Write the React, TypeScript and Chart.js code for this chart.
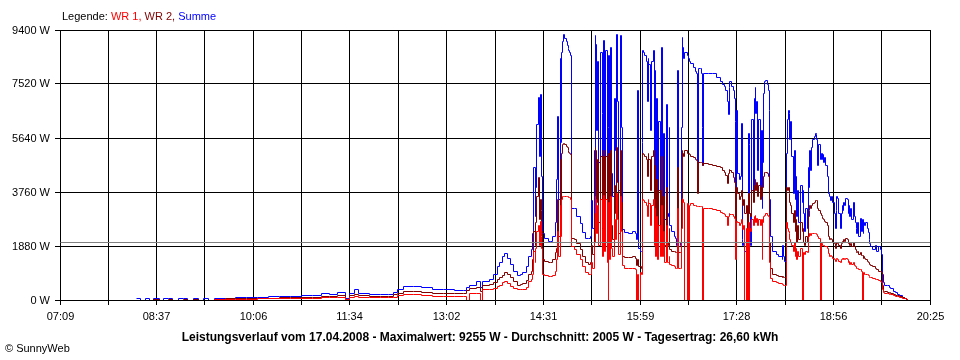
import React, { useEffect, useRef } from 'react';
import { Chart, registerables } from 'chart.js';

Chart.register(...registerables);

const FONT = "'Liberation Sans', Arial, sans-serif";

const xTickLabels = ['07:09', '08:37', '10:06', '11:34', '13:02', '14:31', '15:59', '17:28', '18:56', '20:25'];
const xMin = 429;
const xMax = 1225;
const yMax = 9400;
const yStep = 1880;
const average = 2005;
const seriesNames = ['WR 1', 'WR 2', 'Summe'];
const titleText = 'Leistungsverlauf vom 17.04.2008 - Maximalwert: 9255 W - Durchschnitt: 2005 W - Tagesertrag: 26,60 kWh';

// time of day in minutes since midnight
const times = [
  499, 503, 507, 511, 515, 520, 524, 528, 532, 537,
  542, 546, 551, 556, 560, 565, 570, 580, 590, 600,
  610, 620, 630, 640, 650, 660, 668, 676, 683, 690,
  694, 698, 702, 712, 722, 730, 734, 738, 743, 752,
  760, 770, 780, 790, 798, 801, 804, 810, 814, 816,
  822, 826, 829, 831, 834, 836, 838, 841, 844, 848,
  849.9, 852.6, 855.4, 858.1, 860.0, 860.9, 861.8, 863.6, 864.5, 865.4,
  866.4, 867.3, 868.2, 869.1, 870.0, 870.9, 872.7, 875.5, 878.2, 880.0,
  881.9, 883.7, 884.6, 885.5, 886.5, 887.4, 888.3, 889.2, 890.1, 891.0,
  892.0, 892.9, 893.8, 894.7, 895.6, 896.5, 897.4, 899.3, 902.0, 904.8,
  907.5, 910.2, 913.0, 914.8, 915.7, 916.6, 917.6, 918.5, 919.4, 920.3,
  921.2, 922.1, 923.1, 924.9, 925.8, 926.7, 927.6, 928.5, 929.5, 930.4,
  931.3, 932.2, 933.1, 934.0, 934.9, 935.9, 936.8, 938.6, 939.5, 940.4,
  941.4, 942.3, 943.2, 945.9, 949.6, 953.2, 956.0, 956.9, 957.8, 958.7,
  959.7, 960.6, 961.5, 962.4, 963.3, 964.2, 965.2, 966.1, 967.0, 967.9,
  969.7, 970.6, 971.6, 972.5, 973.4, 974.3, 975.2, 976.1, 977.0, 978.0,
  978.9, 979.8, 981.6, 982.5, 983.5, 984.4, 985.3, 986.2, 987.1, 988.9,
  990.8, 992.6, 993.5, 994.4, 995.3, 996.3, 997.2, 998.1, 999.0, 999.9,
  1000.8, 1002.7, 1003.6, 1004.5, 1006.3, 1008.2, 1010.9, 1011.8, 1012.7, 1013.6,
  1014.6, 1015.5, 1016.4, 1017.3, 1018.2, 1021.9, 1026.4, 1030.1, 1032.9, 1035.6,
  1037.4, 1038.3, 1039.3, 1040.2, 1041.1, 1042.0, 1043.8, 1044.8, 1045.7, 1046.6,
  1047.5, 1048.4, 1049.3, 1050.3, 1051.2, 1052.1, 1053.0, 1053.9, 1054.8, 1055.7,
  1056.7, 1057.6, 1058.5, 1059.4, 1060.3, 1061.2, 1062.1, 1063.1, 1064.0, 1064.9,
  1065.8, 1066.7, 1067.6, 1068.5, 1069.5, 1070.4, 1071.3, 1072.2, 1073.1, 1074.0,
  1074.9, 1075.9, 1076.8, 1077.7, 1078.6, 1079.5, 1081.3, 1084.1, 1086.8, 1089.7,
  1090.5, 1091.4, 1092.3, 1093.3, 1094.2, 1095.1, 1096.0, 1096.9, 1097.8, 1098.7,
  1099.7, 1100.6, 1101.5, 1102.4, 1103.3, 1104.2, 1105.1, 1106.1, 1107.9, 1108.8,
  1109.7, 1110.6, 1111.5, 1112.5, 1113.4, 1114.3, 1115.2, 1116.1, 1117.0, 1117.9,
  1118.9, 1119.8, 1120.7, 1121.6, 1122.5, 1123.4, 1124.4, 1125.3, 1126.2, 1127.1,
  1128.0, 1128.9, 1129.8, 1130.8, 1131.7, 1133.5, 1134.4, 1135.3, 1136.2, 1137.2,
  1138.1, 1139.0, 1139.9, 1140.8, 1141.7, 1142.7, 1143.6, 1144.5, 1145.4, 1146.3,
  1147.2, 1148.1, 1149.1, 1150.0, 1150.9, 1151.8, 1152.7, 1153.6, 1154.6, 1155.5,
  1156.4, 1157.3, 1158.2, 1159.1, 1160.0, 1161.0, 1161.9, 1162.8, 1163.7, 1164.6,
  1165.5, 1166.4, 1167.4, 1168.3, 1169.2, 1170.1, 1171.0, 1172.8, 1174.7, 1176.5,
  1178.3, 1179.3, 1180.2, 1181.1, 1182.0, 1183.8, 1185.7, 1187.5, 1189.3, 1191.2,
  1193.0, 1194.9, 1196.7, 1199.5, 1201.3, 1203.2, 1204.1,
];

const summe = [
  35, 0, 35, 0, 35, 0, 35, 35, 0, 35,
  35, 0, 35, 0, 35, 0, 50, 60, 70, 90,
  100, 110, 120, 130, 140, 150, 240, 200, 270, 40,
  240, 380, 220, 200, 190, 200, 260, 380, 470, 460,
  420, 380, 350, 330, 340, 420, 500, 650, 420, 640,
  700, 900, 1150, 1300, 1500, 1630, 1450, 1250, 1000, 870,
  880, 950, 1150, 1500, 1750, 2300, 4600, 2900, 3900, 6100,
  7050, 5000, 7150, 5600, 4300, 2300, 2150, 2050, 2050, 2200,
  2700, 4200, 6400, 3500, 8400, 5500, 8600, 9000, 9255, 9100,
  9000, 8850, 8750, 8700, 8600, 8500, 3200, 3200, 2900, 2650,
  2350, 2150, 2130, 2200, 3450, 2500, 5200, 9200, 8900, 5900,
  8300, 4800, 8600, 6500, 3500, 9050, 4200, 8700, 2900, 6000,
  8500, 3300, 8800, 4400, 3600, 7000, 5200, 9250, 6900, 3800,
  9200, 6000, 2450, 2350, 2300, 2400, 2300, 2100, 7300, 1800,
  1700, 1700, 5500, 8700, 8600, 8500, 8300, 6900, 8400, 8200,
  5900, 8300, 8700, 4500, 8000, 3200, 7000, 2800, 6200, 3000,
  8800, 3500, 5800, 2800, 6800, 3000, 2900, 6000, 2600, 2400,
  2200, 2150, 1900, 8000, 2000, 1900, 6000, 9150, 8800, 8400,
  8600, 8500, 8400, 8300, 8250, 8100, 7950, 7900, 3800, 8050,
  8050, 7900, 6000, 4700, 7900, 7900, 7880, 7750, 7600, 7500,
  7450, 7300, 6900, 6450, 7400, 7600, 7450, 7300, 7000, 6200,
  1500, 6600, 4400, 4200, 4300, 6150, 2100, 1900, 2000, 1700,
  2100, 1600, 5800, 5400, 3000, 1900, 6300, 3500, 7000, 7400,
  6500, 6900, 4500, 6300, 3800, 5900, 3200, 4800, 7200, 7600,
  7650, 7500, 7300, 6600, 3500, 2200, 1700, 1600, 1500, 1400,
  1900, 1500, 1350, 5100, 6300, 6600, 6500, 5600, 6200, 5000,
  3700, 5200, 3500, 4300, 2900, 3800, 2700, 4000, 3400, 3800,
  3000, 2400, 3200, 2500, 4600, 3900, 5200, 4500, 5300, 5600,
  5700, 5800, 5750, 5600, 4700, 5400, 4900, 5100, 4900, 5050,
  4800, 4950, 4700, 4300, 3700, 3600, 3450, 3600, 3400, 3000,
  2500, 3100, 3600, 3550, 3000, 2500, 3000, 3300, 3100, 3400,
  3300, 3550, 3500, 3000, 3300, 2900, 3200, 2800, 3400, 2900,
  2700, 2500, 2300, 2700, 2200, 2850, 2400, 2800, 2300, 2700,
  2600, 2700, 2500, 2350, 2100, 1950, 1850, 1750, 1900, 1700,
  1850, 1750, 1600, 900, 600, 520, 500, 450, 400, 300,
  250, 200, 150, 100, 60, 20, 0,
];

const wr2 = [
  0, 0, 0, 0, 20, 0, 0, 20, 0, 0,
  20, 0, 20, 0, 0, 0, 20, 35, 40, 50,
  60, 65, 70, 75, 80, 85, 130, 120, 150, 20,
  140, 180, 140, 130, 120, 130, 180, 230, 290, 290,
  250, 230, 220, 220, 230, 330, 400, 420, 300, 520,
  540, 600, 730, 770, 870, 970, 900, 800, 640, 520,
  540, 580, 680, 900, 1000, 1400, 2400, 1900, 2700, 3600,
  4250, 2800, 3500, 3100, 2400, 1400, 1330, 1290, 1300, 1400,
  1650, 1800, 3500, 2200, 4900, 3000, 5100, 5400, 5460, 5400,
  5350, 5300, 5200, 5150, 5100, 5050, 2150, 2100, 1950, 1750,
  1500, 1300, 1250, 1300, 1900, 1600, 3000, 5300, 5200, 3400,
  4900, 2700, 5000, 3600, 2100, 5200, 2300, 5000, 1800, 3300,
  5100, 2000, 5200, 2600, 2100, 4000, 3000, 5300, 4100, 2300,
  5200, 3400, 1500, 1480, 1470, 1500, 1450, 1200, 1400, 1150,
  1150, 1100, 3000, 5100, 5050, 5000, 4900, 4300, 5100, 4900,
  3800, 5000, 5200, 2700, 4700, 2100, 4200, 2000, 3800, 2100,
  5000, 2200, 3600, 1900, 3900, 2000, 1900, 2500, 1750, 1700,
  1700, 1650, 1650, 4600, 1650, 1650, 3500, 5200, 5100, 5000,
  5200, 5100, 5100, 5050, 5000, 4950, 4900, 4850, 3700, 4800,
  4780, 4770, 4770, 4700, 4750, 4720, 4700, 4650, 4600, 4500,
  4450, 4350, 4060, 4400, 4550, 4500, 4450, 4250, 4100, 4000,
  1500, 3900, 3700, 3500, 3600, 3800, 3400, 3300, 3500, 3000,
  3300, 2000, 3700, 3300, 3000, 2900, 3800, 3400, 4000, 4200,
  3800, 4100, 3600, 4000, 3500, 3900, 3600, 3900, 4300, 4450,
  4450, 4400, 4300, 4100, 2000, 1100, 900, 850, 820, 800,
  820, 800, 790, 3900, 3800, 3900, 3700, 3400, 3300, 3000,
  2700, 3100, 2400, 2800, 2000, 2600, 2100, 2700, 2400, 2500,
  2000, 1900, 2200, 2000, 2900, 3100, 3300, 3200, 3300, 3350,
  3400, 3450, 3480, 3450, 3200, 3100, 3000, 2950, 2900, 2850,
  2800, 2750, 2700, 2600, 2200, 2100, 2150, 2100, 2000, 1950,
  1800, 1900, 2000, 1950, 1900, 1800, 1950, 2050, 2000, 2100,
  2050, 2150, 2100, 1950, 2000, 1900, 1950, 1850, 2000, 1850,
  1750, 1700, 1650, 1700, 1600, 1650, 1550, 1550, 1450, 1500,
  1450, 1400, 1350, 1300, 1250, 1250, 1200, 1150, 1100, 1050,
  1000, 980, 950, 500, 300, 280, 260, 250, 230, 200,
  170, 140, 110, 80, 50, 20, 0,
];

const wr1 = [
  0, 0, 0, 0, 0, 0, 0, 0, 0, 0,
  0, 0, 0, 0, 0, 0, 10, 15, 20, 30,
  35, 40, 45, 50, 55, 60, 80, 70, 100, 10,
  90, 110, 80, 70, 70, 75, 100, 140, 175, 175,
  140, 120, 110, 110, 115, 0, 240, 240, 0, 350,
  360, 400, 460, 520, 600, 640, 590, 480, 400, 350,
  360, 380, 450, 650, 720, 900, 1700, 1300, 1800, 2400,
  2600, 1900, 2750, 2200, 1800, 900, 850, 820, 820, 850,
  1000, 1400, 2400, 1500, 3300, 2200, 3500, 3600, 3620, 3600,
  3600, 3590, 3590, 3580, 3560, 3500, 1850, 1750, 1600, 1400,
  1150, 950, 880, 900, 1300, 1100, 2000, 3600, 3500, 2300,
  3300, 1900, 3500, 2500, 1500, 3650, 1700, 3500, 1300, 0,
  3400, 1400, 3600, 1800, 1500, 2800, 2100, 3700, 2800, 1600,
  3600, 2400, 1200, 1100, 1080, 1100, 1050, 0, 900, 0,
  950, 900, 1900, 3500, 3450, 3400, 3300, 2900, 3500, 3350,
  2600, 3300, 3500, 1900, 3200, 1500, 2900, 1400, 2600, 1500,
  3300, 1500, 2400, 1300, 2600, 1300, 1300, 1500, 1250, 1200,
  1150, 1100, 1100, 3200, 1100, 1100, 2500, 3550, 3500, 3400,
  0, 3350, 0, 3300, 3350, 3300, 3280, 3250, 3250, 3250,
  3250, 3250, 0, 0, 3200, 3180, 3150, 3120, 3050, 3000,
  2960, 2900, 2610, 2900, 3000, 2980, 2960, 2900, 2850, 2700,
  1400, 2750, 2700, 2600, 2650, 2800, 2500, 2450, 2600, 0,
  2500, 0, 2700, 0, 2500, 2400, 2800, 2600, 2900, 2950,
  2700, 2850, 2600, 2800, 2600, 2800, 1400, 2700, 2900, 2950,
  3000, 2950, 2900, 2800, 1300, 750, 650, 600, 560, 540,
  540, 520, 510, 2700, 2500, 2400, 2300, 2100, 2000, 1900,
  1700, 2000, 1500, 1800, 1400, 1700, 1500, 1800, 0, 0,
  1650, 1600, 1700, 1650, 2200, 2300, 2300, 2250, 2300, 2300,
  2320, 2330, 2300, 2280, 2200, 2150, 0, 2000, 1950, 1900,
  1900, 1850, 1850, 1800, 1620, 1500, 1550, 1500, 1450, 1400,
  1350, 1400, 1450, 1400, 1350, 1300, 1400, 1450, 1400, 1450,
  1400, 1450, 1400, 1300, 1350, 1250, 1300, 1250, 1300, 1200,
  1150, 1150, 1100, 1100, 1050, 1050, 1000, 0, 950, 950,
  900, 900, 880, 850, 820, 800, 780, 750, 720, 700,
  680, 650, 620, 350, 250, 220, 210, 200, 180, 150,
  130, 110, 80, 60, 40, 15, 0,
];

const COLORS = { wr1: '#ff0000', wr2: '#800000', summe: '#0000ff', avg: '#808080', axis: '#000000' };

// Snap the scales' pixel output to the pixel grid so 1px step lines render crisp
const crispPlugin = {
  id: 'crispPixels',
  afterLayout(chart: any) {
    ['x', 'y'].forEach((id) => {
      const s = chart.scales[id];
      if (!s || s.__crisp) return;
      const orig = s.getPixelForValue.bind(s);
      s.getPixelForValue = (v: any, idx?: any) => {
        const p = orig(v, idx);
        return Number.isFinite(p) ? Math.floor(p) + 0.5 : p;
      };
      s.__crisp = true;
    });
  },
};

export default function App() {
  const ref = useRef<HTMLCanvasElement | null>(null);

  useEffect(() => {
    document.body.style.margin = '0';
    const canvas = ref.current;
    if (!canvas) return;
    const toPts = (vals: number[]) => times.map((t, i) => ({ x: t, y: vals[i] }));
    const lineBase = { borderWidth: 1, pointRadius: 0, fill: false, tension: 0, stepped: true as const };
    const chart = new Chart(canvas, {
      type: 'line',
      data: {
        datasets: [
          {
            label: 'Durchschnitt',
            data: [{ x: xMin, y: average }, { x: xMax, y: average }],
            borderColor: COLORS.avg,
            borderWidth: 1,
            pointRadius: 0,
          },
          { ...lineBase, label: seriesNames[0], data: toPts(wr1), borderColor: COLORS.wr1 },
          { ...lineBase, label: seriesNames[1], data: toPts(wr2), borderColor: COLORS.wr2 },
          { ...lineBase, label: seriesNames[2], data: toPts(summe), borderColor: COLORS.summe },
        ],
      },
      options: {
        animation: false,
        responsive: false,
        devicePixelRatio: 1,
        events: [],
        layout: { padding: { top: 30, right: 30, left: 0, bottom: 0 } },
        plugins: {
          legend: { display: false },
          tooltip: { enabled: false },
          title: { display: false },
        },
        scales: {
          x: {
            type: 'linear',
            min: xMin,
            max: xMax,
            afterBuildTicks: (s: any) => {
              s.ticks = Array.from({ length: 19 }, (_, i) => ({ value: xMin + (i * (xMax - xMin)) / 18 }));
            },
            afterFit: (s: any) => {
              s.height = 60;
            },
            ticks: {
              autoSkip: false,
              maxRotation: 0,
              padding: 5,
              color: COLORS.axis,
              font: { family: FONT, size: 11 },
              callback: (_v: any, i: number) => (i % 2 === 0 ? xTickLabels[i / 2] : ''),
            },
            grid: { color: COLORS.axis, lineWidth: 1, tickLength: 5, tickColor: COLORS.axis },
            border: { color: COLORS.axis, width: 1 },
          },
          y: {
            min: 0,
            max: yMax,
            afterFit: (s: any) => {
              s.width = 60;
            },
            ticks: {
              stepSize: yStep,
              padding: 5,
              color: COLORS.axis,
              font: { family: FONT, size: 11 },
              callback: (v: any) => `${v} W`,
            },
            grid: { color: COLORS.axis, lineWidth: 1, tickLength: 5, tickColor: COLORS.axis },
            border: { color: COLORS.axis, width: 1 },
          },
        },
      },
      plugins: [crispPlugin],
    });
    return () => chart.destroy();
  }, []);

  return (
    <div style={{ position: 'absolute', left: 0, top: 0, width: 960, height: 360, background: '#fff', fontFamily: FONT }}>
      <canvas ref={ref} width={960} height={360} style={{ display: 'block', width: 960, height: 360 }} />
      <div style={{ position: 'absolute', left: 62, top: 11, fontSize: 11, lineHeight: '11px', whiteSpace: 'nowrap' }}>
        <span style={{ color: '#000' }}>Legende: </span>
        <span style={{ color: COLORS.wr1 }}>{seriesNames[0]},</span>
        <span style={{ color: COLORS.wr2 }}> {seriesNames[1]},</span>
        <span style={{ color: COLORS.summe }}> {seriesNames[2]}</span>
      </div>
      <div style={{ position: 'absolute', left: 0, top: 331, width: 960, textAlign: 'center', fontSize: 12, lineHeight: '12px', fontWeight: 'bold', whiteSpace: 'nowrap' }}>
        {titleText}
      </div>
      <div style={{ position: 'absolute', left: 5, top: 343, fontSize: 11, lineHeight: '11px', whiteSpace: 'nowrap' }}>
        © SunnyWeb
      </div>
    </div>
  );
}
